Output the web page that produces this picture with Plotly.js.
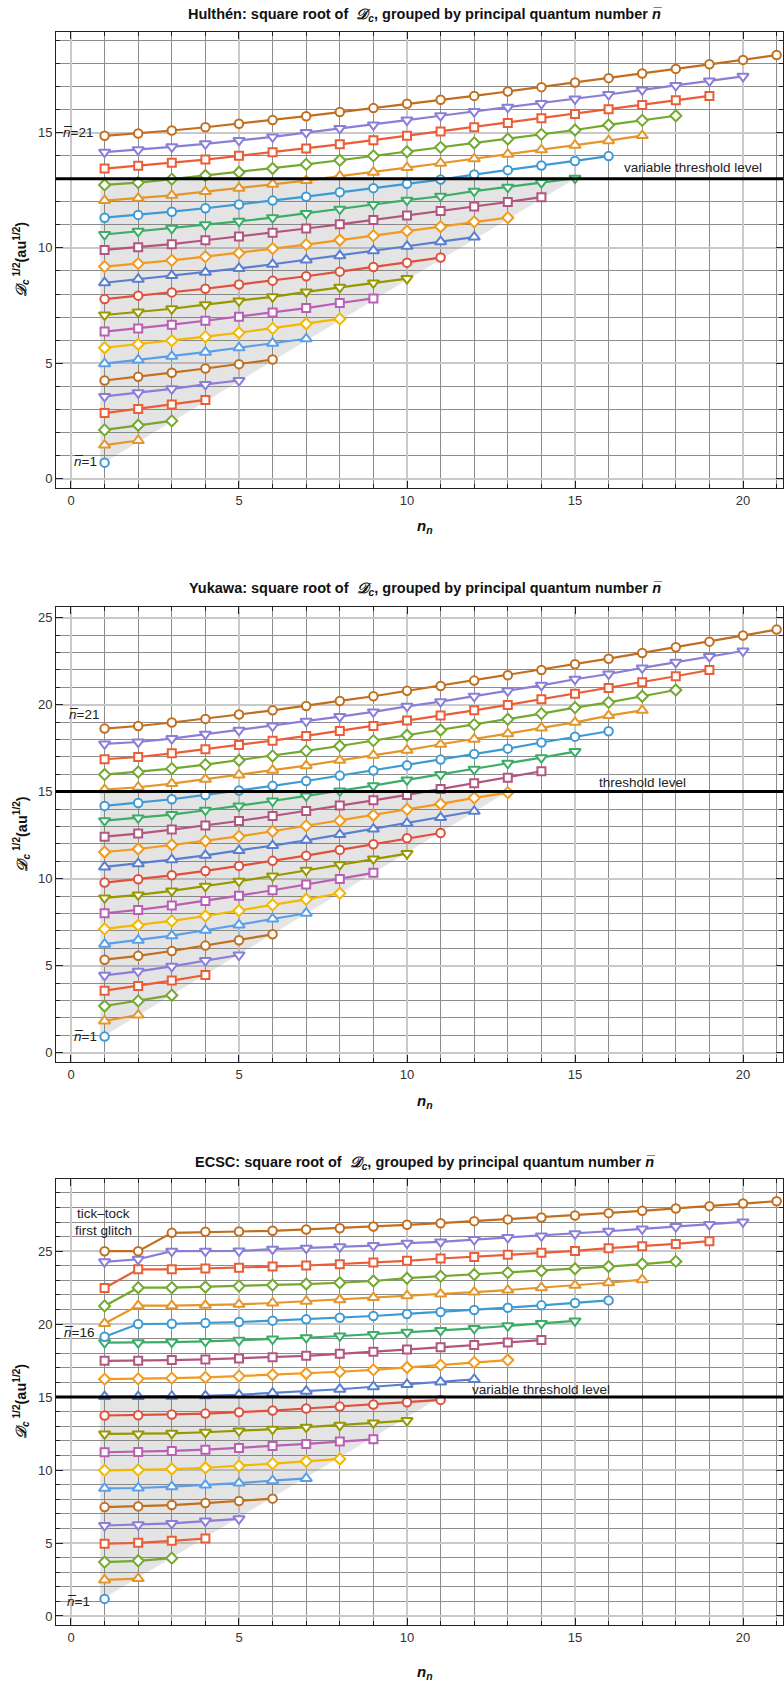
<!DOCTYPE html>
<html>
<head>
<meta charset="utf-8">
<script src="https://cdn.plot.ly/plotly-3.0.1.min.js"></script>
<style>
  html, body { margin: 0; padding: 0; background: #fff; }
  #chart { width: 784px; height: 1684px; }
</style>
</head>
<body>
<div id="chart"></div>
<script>
// sqrt(D_c) per principal quantum number n̄ (row k holds n̄ = k+1, points at n_n = 1..n̄)
const hulthen = [
  [0.69],
  [1.45, 1.65],
  [2.11, 2.31, 2.50],
  [2.84, 3.02, 3.21, 3.41],
  [3.56, 3.72, 3.89, 4.08, 4.25],
  [4.25, 4.41, 4.59, 4.77, 4.96, 5.16],
  [4.98, 5.14, 5.30, 5.48, 5.67, 5.87, 6.06],
  [5.67, 5.82, 5.98, 6.15, 6.32, 6.51, 6.71, 6.92],
  [6.37, 6.51, 6.67, 6.84, 7.02, 7.20, 7.39, 7.61, 7.81],
  [7.09, 7.22, 7.36, 7.54, 7.70, 7.88, 8.09, 8.29, 8.48, 8.67],
  [7.78, 7.93, 8.07, 8.23, 8.41, 8.58, 8.77, 8.97, 9.17, 9.36, 9.58],
  [8.49, 8.64, 8.80, 8.94, 9.11, 9.29, 9.48, 9.66, 9.88, 10.07, 10.27, 10.47],
  [9.19, 9.32, 9.46, 9.62, 9.78, 9.97, 10.14, 10.34, 10.53, 10.73, 10.92, 11.13, 11.31],
  [9.91, 10.03, 10.16, 10.33, 10.49, 10.66, 10.84, 11.02, 11.21, 11.40, 11.60, 11.79, 11.99, 12.20],
  [10.58, 10.72, 10.85, 11.00, 11.15, 11.31, 11.49, 11.68, 11.88, 12.07, 12.24, 12.46, 12.63, 12.83, 13.02],
  [11.31, 11.43, 11.57, 11.72, 11.88, 12.05, 12.22, 12.41, 12.59, 12.78, 12.96, 13.18, 13.37, 13.57, 13.77, 13.98],
  [12.05, 12.15, 12.28, 12.44, 12.59, 12.76, 12.92, 13.11, 13.28, 13.48, 13.67, 13.86, 14.06, 14.25, 14.45, 14.65, 14.87],
  [12.73, 12.83, 12.98, 13.14, 13.28, 13.44, 13.62, 13.80, 13.99, 14.17, 14.36, 14.55, 14.72, 14.92, 15.11, 15.33, 15.53, 15.73],
  [13.44, 13.56, 13.69, 13.83, 13.99, 14.15, 14.31, 14.49, 14.67, 14.86, 15.05, 15.23, 15.42, 15.62, 15.81, 16.01, 16.20, 16.40, 16.59],
  [14.15, 14.25, 14.38, 14.51, 14.66, 14.81, 15.00, 15.18, 15.33, 15.54, 15.73, 15.91, 16.10, 16.26, 16.46, 16.65, 16.85, 17.04, 17.24, 17.44],
  [14.86, 14.96, 15.09, 15.23, 15.38, 15.54, 15.71, 15.89, 16.06, 16.25, 16.42, 16.59, 16.78, 16.97, 17.17, 17.36, 17.56, 17.76, 17.96, 18.15, 18.36]
];

const yukawa = [
  [0.92],
  [1.82, 2.16],
  [2.68, 2.97, 3.30],
  [3.56, 3.83, 4.14, 4.46],
  [4.44, 4.67, 4.96, 5.29, 5.61],
  [5.34, 5.56, 5.84, 6.15, 6.46, 6.80],
  [6.23, 6.46, 6.72, 7.03, 7.34, 7.68, 8.01],
  [7.11, 7.32, 7.57, 7.85, 8.16, 8.49, 8.81, 9.16],
  [8.01, 8.20, 8.45, 8.72, 9.02, 9.33, 9.66, 9.98, 10.33],
  [8.89, 9.06, 9.29, 9.56, 9.85, 10.15, 10.48, 10.80, 11.13, 11.44],
  [9.77, 9.96, 10.19, 10.44, 10.73, 11.02, 11.32, 11.65, 11.97, 12.32, 12.62],
  [10.67, 10.86, 11.09, 11.34, 11.61, 11.90, 12.20, 12.53, 12.85, 13.18, 13.51, 13.87],
  [11.53, 11.70, 11.93, 12.16, 12.43, 12.72, 13.03, 13.33, 13.64, 13.98, 14.29, 14.64, 14.94],
  [12.41, 12.59, 12.82, 13.05, 13.31, 13.60, 13.89, 14.20, 14.50, 14.81, 15.15, 15.48, 15.80, 16.17],
  [13.33, 13.49, 13.68, 13.93, 14.18, 14.46, 14.75, 15.04, 15.34, 15.67, 15.98, 16.28, 16.63, 16.95, 17.30],
  [14.18, 14.35, 14.56, 14.81, 15.06, 15.33, 15.61, 15.92, 16.21, 16.51, 16.84, 17.16, 17.47, 17.82, 18.16, 18.47],
  [15.11, 15.25, 15.46, 15.71, 15.96, 16.23, 16.49, 16.80, 17.09, 17.38, 17.72, 18.01, 18.33, 18.66, 18.98, 19.37, 19.67],
  [15.98, 16.13, 16.32, 16.55, 16.80, 17.05, 17.34, 17.62, 17.93, 18.24, 18.54, 18.85, 19.16, 19.48, 19.83, 20.13, 20.48, 20.84],
  [16.86, 16.99, 17.20, 17.43, 17.68, 17.93, 18.20, 18.49, 18.77, 19.08, 19.37, 19.67, 19.98, 20.31, 20.63, 20.96, 21.28, 21.63, 21.99],
  [17.74, 17.85, 18.05, 18.30, 18.52, 18.77, 19.04, 19.31, 19.58, 19.90, 20.17, 20.48, 20.79, 21.11, 21.46, 21.76, 22.11, 22.43, 22.76, 23.08],
  [18.62, 18.77, 18.97, 19.18, 19.43, 19.67, 19.92, 20.21, 20.48, 20.79, 21.07, 21.38, 21.69, 21.99, 22.32, 22.64, 22.97, 23.30, 23.62, 23.97, 24.31]
];

const ecsc = [
  [1.17],
  [2.47, 2.56],
  [3.69, 3.78, 3.96],
  [4.95, 5.01, 5.15, 5.31],
  [6.20, 6.25, 6.34, 6.50, 6.66],
  [7.46, 7.51, 7.60, 7.74, 7.88, 8.04],
  [8.75, 8.77, 8.86, 8.97, 9.11, 9.27, 9.43],
  [9.98, 10.00, 10.07, 10.16, 10.28, 10.44, 10.60, 10.76],
  [11.22, 11.24, 11.31, 11.40, 11.52, 11.65, 11.79, 11.95, 12.11],
  [12.48, 12.48, 12.52, 12.59, 12.68, 12.80, 12.94, 13.07, 13.23, 13.39],
  [13.74, 13.76, 13.81, 13.87, 13.96, 14.08, 14.22, 14.35, 14.49, 14.65, 14.81],
  [15.04, 15.04, 15.06, 15.09, 15.16, 15.27, 15.41, 15.54, 15.71, 15.87, 16.04, 16.21],
  [16.23, 16.25, 16.30, 16.35, 16.44, 16.53, 16.62, 16.74, 16.87, 17.03, 17.19, 17.38, 17.54],
  [17.49, 17.49, 17.54, 17.58, 17.65, 17.74, 17.83, 17.97, 18.11, 18.27, 18.41, 18.57, 18.75, 18.91],
  [18.73, 18.73, 18.77, 18.82, 18.89, 18.98, 19.07, 19.19, 19.30, 19.44, 19.57, 19.71, 19.89, 20.05, 20.22],
  [19.14, 20.01, 20.03, 20.08, 20.15, 20.24, 20.33, 20.44, 20.56, 20.70, 20.83, 20.97, 21.13, 21.29, 21.45, 21.63],
  [20.05, 21.27, 21.27, 21.29, 21.36, 21.45, 21.57, 21.68, 21.82, 21.95, 22.06, 22.20, 22.34, 22.50, 22.66, 22.84, 23.05],
  [21.25, 22.50, 22.50, 22.55, 22.61, 22.68, 22.75, 22.84, 22.96, 23.15, 23.28, 23.40, 23.53, 23.66, 23.80, 23.95, 24.12, 24.30],
  [22.48, 23.76, 23.76, 23.81, 23.86, 23.95, 24.02, 24.11, 24.22, 24.34, 24.50, 24.61, 24.75, 24.89, 25.02, 25.21, 25.34, 25.50, 25.69],
  [24.27, 24.45, 25.00, 25.00, 25.02, 25.14, 25.21, 25.30, 25.39, 25.55, 25.64, 25.80, 25.94, 26.05, 26.19, 26.37, 26.53, 26.69, 26.83, 27.01],
  [25.00, 25.00, 26.26, 26.33, 26.35, 26.40, 26.49, 26.58, 26.69, 26.81, 26.92, 27.06, 27.18, 27.31, 27.45, 27.61, 27.77, 27.93, 28.09, 28.27, 28.43]
];

const panelNames = ['Hulthén', 'Yukawa', 'ECSC'];
const thresholds = [13, 15, 15];
const thresholdLabels = ['variable threshold level', 'threshold level', 'variable threshold level'];
// n_n where the shaded band meets the threshold line
const shadeEnds = [15, 13, 11];

// series styling (cycles of 15 colours and 5 marker shapes)
const palette = ['#3d9ad5', '#e5962b', '#73a92f', '#eb5d36', '#8a7ed8', '#c16e1e', '#5b9fe8', '#f3b800',
                 '#bb5eb5', '#979800', '#e0503a', '#5a7fd0', '#f29a1d', '#b45580', '#3cad66'];
const symbols = ['circle', 'triangle-up', 'diamond', 'square', 'triangle-down'];
const symbolSizes = { 'circle': 8.5, 'triangle-up': 10, 'diamond': 8.5, 'square': 8, 'triangle-down': 10 };

const W = 784, H = 1684;
const plotLeft = 56, plotRight = 783;
// pixel frames (top, bottom) of the three panels
const frames = [[32, 488], [607, 1062], [1179, 1625]];
const yRanges = [[-0.41, 19.36], [-0.54, 25.61], [-0.62, 29.95]];
const xRange = [-0.446, 21.19];
const titleY = [15, 589, 1163];
const xTitleY = [526, 1101, 1672];

const FONT = 'Liberation Sans, Arial, sans-serif';
const NB = 'n\u0305';

const px2x = p => p / W;
const px2y = p => 1 - p / H;

const data = [];
const layout = {
  width: W, height: H,
  margin: { l: 0, r: 0, t: 0, b: 0 },
  paper_bgcolor: '#ffffff',
  plot_bgcolor: '#ffffff',
  showlegend: false,
  font: { family: FONT, size: 13, color: '#222' },
  shapes: [],
  annotations: []
};

const rowsByPanel = [hulthen, yukawa, ecsc];

rowsByPanel.forEach((rows, p) => {
  const sfx = p === 0 ? '' : String(p + 1);
  const xa = 'x' + sfx, ya = 'y' + sfx;
  const thr = thresholds[p];

  // shaded band under the threshold
  const x0 = 0.87;
  const yStart = rows[0][0] - 0.1;
  data.push({
    type: 'scatter', mode: 'lines', xaxis: xa, yaxis: ya,
    x: [x0, x0, shadeEnds[p], x0],
    y: [thr, yStart, thr, thr],
    fill: 'toself', fillcolor: 'rgba(120,120,120,0.2)',
    line: { width: 0 }, hoverinfo: 'skip'
  });

  rows.forEach((vals, k) => {
    const sym = symbols[k % 5];
    const col = palette[k % 15];
    data.push({
      type: 'scatter', mode: 'lines+markers', xaxis: xa, yaxis: ya,
      name: NB + '=' + (k + 1),
      x: vals.map((_, i) => i + 1),
      y: vals,
      line: { color: col, width: 2.2 },
      marker: { symbol: sym, size: symbolSizes[sym], color: '#ffffff', line: { color: col, width: 2 } }
    });
  });

  const axBase = {
    showline: true, linecolor: '#222', linewidth: 1, mirror: 'allticks',
    ticks: 'inside', ticklen: 7, tickcolor: '#222', tickwidth: 1,
    showgrid: true, gridcolor: '#c9c9c9', gridwidth: 2,
    zeroline: false,
    tickfont: { family: FONT, size: 13, color: '#333' },
    minor: { dtick: 1, ticks: 'inside', ticklen: 4, tickcolor: '#222', showgrid: true, gridcolor: '#8c8c8c', gridwidth: 1 }
  };

  layout['xaxis' + sfx] = Object.assign({}, axBase, {
    domain: [px2x(plotLeft), px2x(plotRight)],
    range: xRange, dtick: 5, tick0: 0, anchor: ya
  });
  layout['yaxis' + sfx] = Object.assign({}, axBase, {
    domain: [px2y(frames[p][1]), px2y(frames[p][0])],
    range: yRanges[p], dtick: 5, tick0: 0, anchor: xa
  });

  // threshold line
  layout.shapes.push({
    type: 'line', xref: xa + ' domain', yref: ya, x0: 0, x1: 1, y0: thr, y1: thr,
    line: { color: '#000', width: 3 }, layer: 'above'
  });

  // panel title
  layout.annotations.push({
    xref: 'paper', yref: 'paper', x: px2x(425), y: px2y(titleY[p]),
    xanchor: 'center', yanchor: 'middle', showarrow: false,
    text: '<b>' + panelNames[p] + ': square root of  <i>𝒟</i><sub><i>c</i></sub>, grouped by principal quantum number <i>' + NB + '</i></b>',
    font: { family: FONT, size: 14.5, color: '#111' }
  });

  // y axis title
  layout.annotations.push({
    xref: 'paper', yref: 'paper', x: px2x(21), y: px2y((frames[p][0] + frames[p][1]) / 2),
    xanchor: 'center', yanchor: 'middle', showarrow: false, textangle: -90,
    text: '<b><i>𝒟</i><sub><i>c</i></sub><sup> 1/2</sup>(au<sup>1/2</sup>)</b>',
    font: { family: FONT, size: 14.5, color: '#111' }
  });

  // x axis title
  layout.annotations.push({
    xref: 'paper', yref: 'paper', x: px2x(425), y: px2y(xTitleY[p]),
    xanchor: 'center', yanchor: 'middle', showarrow: false,
    text: '<b><i>n</i><sub><i>n</i></sub></b>',
    font: { family: FONT, size: 15, color: '#111' }
  });
});

// in-plot labels
const labelFont = { family: FONT, size: 13.5, color: '#222' };
const addLabel = (sfx, x, y, text, xanchor) => layout.annotations.push({
  xref: 'x' + sfx, yref: 'y' + sfx, x: x, y: y, text: text, showarrow: false,
  xanchor: xanchor, yanchor: 'middle', font: labelFont
});

addLabel('', 0.70, 15.0, '<i>' + NB + '</i>=21', 'right');
addLabel('', 0.82, 0.75, '<i>' + NB + '</i>=1', 'right');
addLabel('', 18.5, 13.5, thresholdLabels[0], 'center');

addLabel('2', 0.88, 19.44, '<i>' + NB + '</i>=21', 'right');
addLabel('2', 0.82, 0.94, '<i>' + NB + '</i>=1', 'right');
addLabel('2', 17.0, 15.55, thresholdLabels[1], 'center');

addLabel('3', 0.73, 19.46, '<i>' + NB + '</i>=16', 'right');
addLabel('3', 0.62, 0.98, '<i>' + NB + '</i>=1', 'right');
addLabel('3', 14.0, 15.55, thresholdLabels[2], 'center');
addLabel('3', 0.98, 27.6, 'tick–tock', 'center');
addLabel('3', 0.98, 26.4, 'first glitch', 'center');

Plotly.newPlot('chart', data, layout, { staticPlot: true, displayModeBar: false });
</script>
</body>
</html>
